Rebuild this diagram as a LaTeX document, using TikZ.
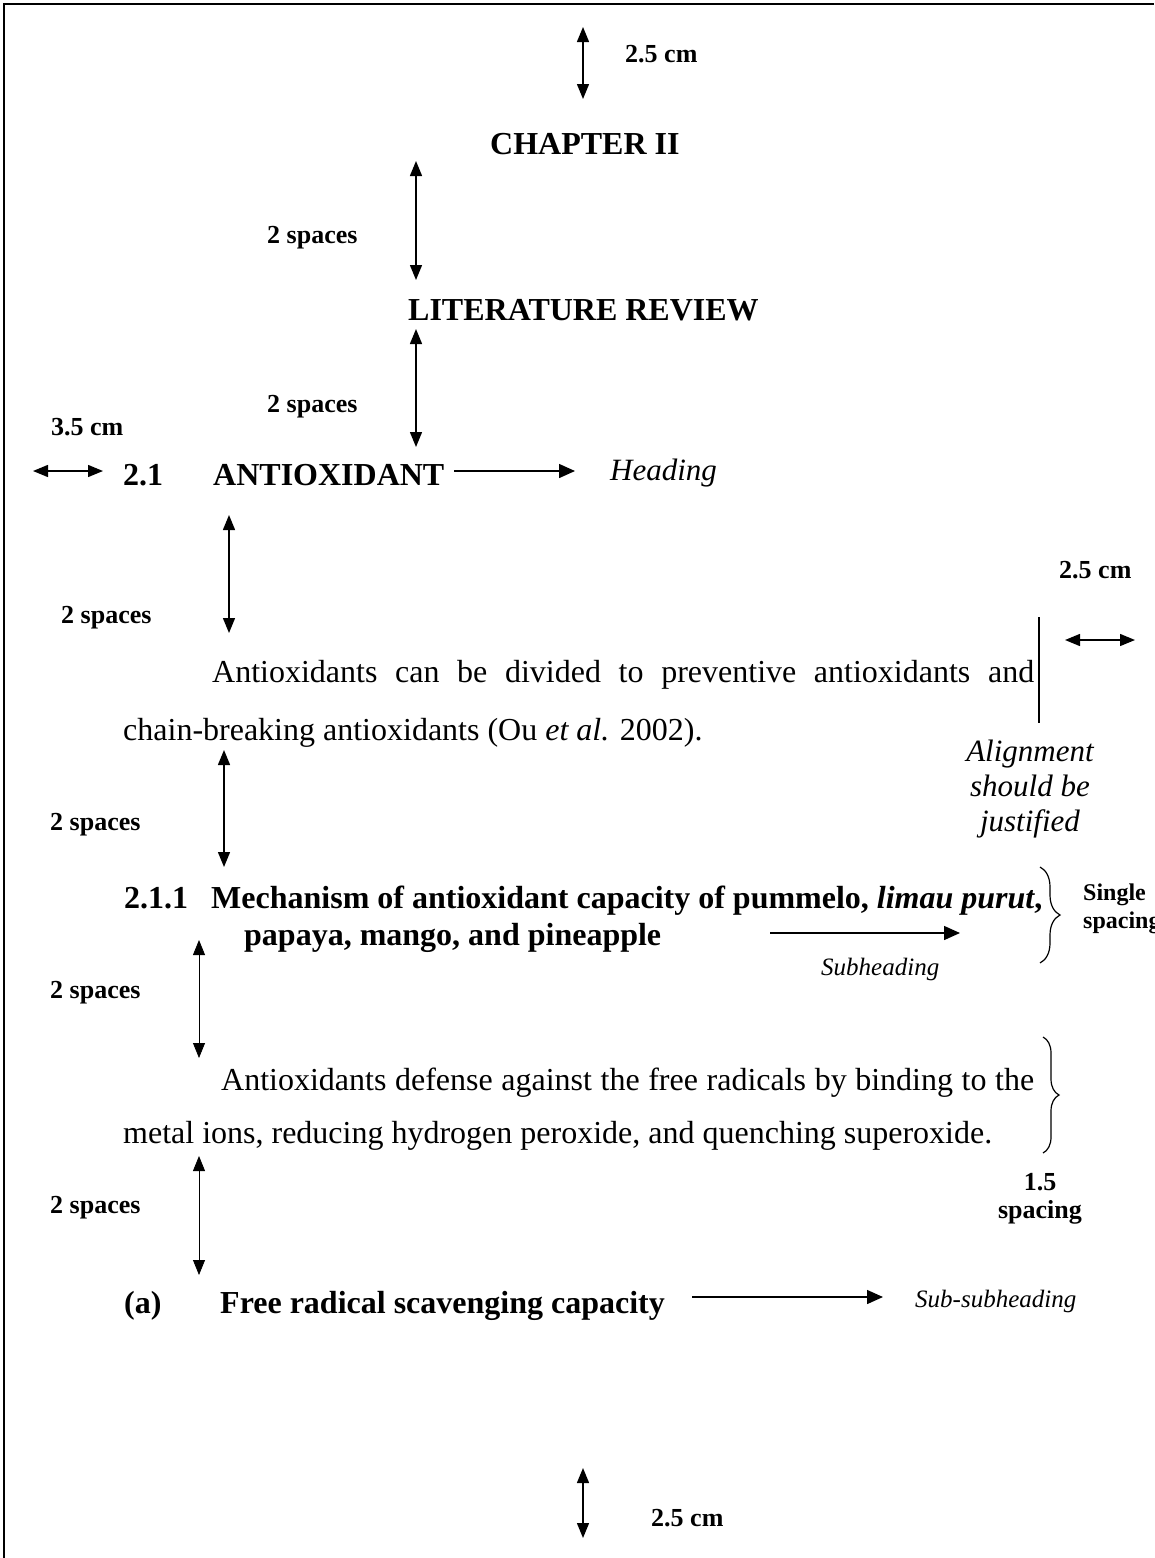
\documentclass[tikz,border=0pt]{standalone}
\usepackage{fontspec}
\setmainfont{Liberation Serif}
\usetikzlibrary{arrows.meta,decorations.pathreplacing}

\begin{document}
\begin{tikzpicture}[x=1pt,y=-1pt,
every node/.style={inner sep=0pt,anchor=base west},
head/.style={font=\fontsize{32}{35}\selectfont\bfseries},
lbl/.style={font=\fontsize{26}{28}\selectfont\bfseries},
note/.style={font=\fontsize{31}{35}\selectfont\itshape},
smallnote/.style={font=\fontsize{25}{28}\selectfont\itshape},
body/.style={text width=911pt,align=justify},
dim/.style={{Triangle[length=15pt,width=12pt]}-{Triangle[length=15pt,width=12pt]},line width=1.4pt},
thindim/.style={dim,line width=0.8pt},
arrow/.style={-{Triangle[length=16pt,width=14pt]},line width=1.5pt},
curly/.style={decorate,line width=1.2pt}]
\useasboundingbox (0,0) rectangle (1154,1558);
\draw[line width=2pt] (4,1558) -- (4,4) -- (1154,4);

% top margin and titles
\coordinate (t1) at (583,27); \coordinate (t2) at (583,99);
\node[lbl] (tm) at (625,62) {2.5 cm};
\node[head] (ch) at (490,154) {CHAPTER II};
\coordinate (a1) at (416,161); \coordinate (a2) at (416,280);
\node[lbl] (sp1) at (267,243) {2 spaces};
\node[head] (lr) at (408,320) {LITERATURE REVIEW};
\coordinate (a3) at (416,329); \coordinate (a4) at (416,447);
\node[lbl] (sp2) at (267,412) {2 spaces};
\draw[dim](t1)--(t2); \draw[dim](a1)--(a2); \draw[dim](a3)--(a4);

% heading
\node[lbl] (lm) at (51,435) {3.5 cm};
\coordinate (l1) at (33,471); \coordinate (l2) at (103,471);
\node[head] (n1) at (123,485) {2.1};
\node[head] (h1) at (213,485) {ANTIOXIDANT};
\node[note] (hd) at (610,480) {Heading};
\coordinate (ha) at (454,471); \coordinate (hb) at (575,471);
\draw[dim](l1)--(l2); \draw[arrow](ha)--(hb);
\coordinate (a5) at (229,515); \coordinate (a6) at (229,633);
\node[lbl] (sp3) at (61,623) {2 spaces};
\draw[dim](a5)--(a6);

% first paragraph and right margin
\node[lbl] (rm) at (1059,578) {2.5 cm};
\coordinate (r1) at (1065,640); \coordinate (r2) at (1135,640);
\coordinate (v1) at (1039,617); \coordinate (v2) at (1039,723);
\draw[dim](r1)--(r2); \draw[line width=1.2pt](v1)--(v2);
\node[body,font=\fontsize{32}{58}\selectfont] (p1) at (123,682) {\hspace*{89pt}Antioxidants can be divided to preventive antioxidants and\linebreak chain-breaking antioxidants (Ou \textit{et al.} 2002).};
\node[note,anchor=base,align=center] (al) at (1030,831) {Alignment\\should be\\justified};
\coordinate (a7) at (224,750); \coordinate (a8) at (224,867);
\node[lbl] (sp4) at (50,830) {2 spaces};
\draw[dim](a7)--(a8);

% subheading
\node[head] (n2) at (124,908) {2.1.1};
\node[head] (h2) at (211,908) {Mechanism of antioxidant capacity of pummelo, \textit{limau purut},};
\node[head] (h2b) at (244,945) {papaya, mango, and pineapple};
\coordinate (sa) at (770,933); \coordinate (sb) at (960,933);
\draw[arrow](sa)--(sb);
\node[smallnote] (sh) at (821,975) {Subheading};
\draw[curly,decoration={brace,amplitude=20pt}] (1040,867) -- (1040,963);
\node[font=\fontsize{24}{28}\selectfont\bfseries,align=left] (sg) at (1083,928) {Single\\spacing};
\coordinate (a9) at (199,940); \coordinate (a10) at (199,1058);
\node[lbl] (sp5) at (50,998) {2 spaces};
\draw[thindim](a9)--(a10);

% second paragraph
\node[body,font=\fontsize{32}{53}\selectfont] (p2) at (123,1090) {\hspace*{98pt}Antioxidants defense against the free radicals by binding to the\linebreak metal ions, reducing hydrogen peroxide, and quenching superoxide.};
\draw[curly,decoration={brace,amplitude=16pt}] (1043,1037) -- (1043,1153);
\node[lbl,anchor=base,align=center] (os) at (1040,1218) {1.5\\spacing};
\coordinate (a11) at (199,1156); \coordinate (a12) at (199,1275);
\node[lbl] (sp6) at (50,1213) {2 spaces};
\draw[thindim](a11)--(a12);

% sub-subheading and bottom margin
\node[head] (n3) at (124,1313) {(a)};
\node[head] (h3) at (220,1313) {Free radical scavenging capacity};
\coordinate (sc) at (692,1297); \coordinate (sd) at (883,1297);
\draw[arrow](sc)--(sd);
\node[smallnote] (ss) at (915,1307) {Sub-subheading};
\coordinate (b1) at (583,1468); \coordinate (b2) at (583,1538);
\node[lbl] (bm) at (651,1526) {2.5 cm};
\draw[dim](b1)--(b2);
\end{tikzpicture}
\end{document}
